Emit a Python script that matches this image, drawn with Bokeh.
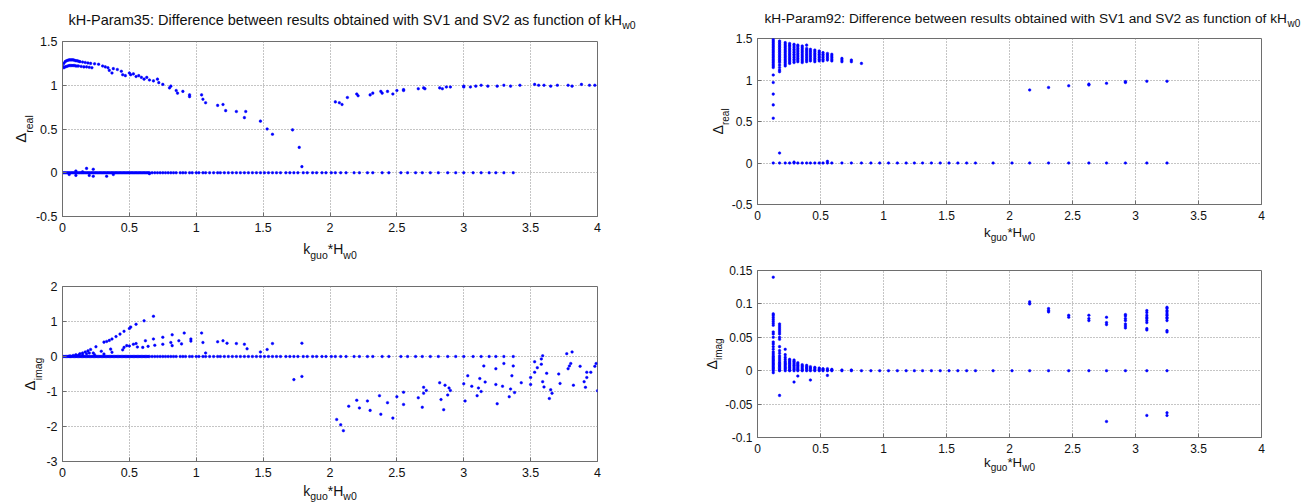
import math
from bokeh.plotting import figure
from bokeh.models import Range1d, FixedTicker, Label
from bokeh.layouts import row, column
from bokeh.embed import file_html
from bokeh.resources import INLINE

# ---------------- data ----------------
x_ticks = [0, 0.5, 1, 1.5, 2, 2.5, 3, 3.5, 4]
x_tick_labels = ["0", "0.5", "1", "1.5", "2", "2.5", "3", "3.5", "4"]

tl_y_ticks = [-0.5, 0, 0.5, 1, 1.5]
tl_y_labels = ["-0.5", "0", "0.5", "1", "1.5"]
bl_y_ticks = [-3, -2, -1, 0, 1, 2]
bl_y_labels = ["-3", "-2", "-1", "0", "1", "2"]
tr_y_ticks = [-0.5, 0, 0.5, 1, 1.5]
tr_y_labels = ["-0.5", "0", "0.5", "1", "1.5"]
br_y_ticks = [-0.1, -0.05, 0, 0.05, 0.1, 0.15]
br_y_labels = ["-0.1", "-0.05", "0", "0.05", "0.1", "0.15"]

# Param35: kH samples where the difference is (close to) zero
p35_zero_k = [0.00, 0.01, 0.02, 0.03, 0.04, 0.05, 0.06, 0.07, 0.08, 0.09,
              0.10, 0.11, 0.12, 0.13, 0.14, 0.15, 0.16, 0.17, 0.18, 0.19,
              0.20, 0.21, 0.22, 0.23, 0.24, 0.25, 0.26, 0.27, 0.28, 0.29,
              0.30, 0.31, 0.32, 0.33, 0.34, 0.35, 0.36, 0.37, 0.38, 0.39,
              0.40, 0.41, 0.42, 0.43, 0.44, 0.45, 0.46, 0.47, 0.48, 0.49,
              0.50, 0.51, 0.52, 0.53, 0.54, 0.55, 0.56, 0.57, 0.58, 0.59,
              0.60, 0.61, 0.62, 0.63, 0.64, 0.65, 0.67, 0.69, 0.71, 0.73,
              0.75, 0.77, 0.79, 0.81, 0.83, 0.85, 0.88, 0.90, 0.92, 0.95,
              0.97, 1.00, 1.02, 1.05, 1.07, 1.10, 1.13, 1.16, 1.18, 1.21,
              1.24, 1.27, 1.30, 1.33, 1.36, 1.39, 1.42, 1.45, 1.48, 1.51,
              1.54, 1.57, 1.60, 1.63, 1.67, 1.70, 1.73, 1.76, 1.80, 1.83,
              1.87, 1.90, 1.94, 1.97, 2.01, 2.04, 2.08, 2.12, 2.18, 2.22,
              2.28, 2.32, 2.39, 2.44, 2.53, 2.58, 2.64, 2.69, 2.75, 2.81,
              2.88, 2.94, 3.00, 3.07, 3.13, 3.19, 3.24, 3.30, 3.37]

# Param35, real part: points off the zero line
tl_x = [0.05, 0.10, 0.10, 0.15, 0.18, 0.20, 0.23, 0.23, 0.33, 0.38, 0.65,
        0.00, 0.01, 0.02, 0.03, 0.04, 0.05, 0.06, 0.07, 0.08, 0.09, 0.10, 0.11,
        0.12, 0.13, 0.15, 0.17, 0.19, 0.21, 0.24, 0.27,
        0.01, 0.02, 0.03, 0.04, 0.05, 0.06, 0.07, 0.08, 0.09, 0.10, 0.11, 0.12,
        0.14, 0.16, 0.18, 0.20, 0.22,
        0.30, 0.32, 0.34, 0.35, 0.37, 0.38, 0.41, 0.44, 0.45, 0.47, 0.50, 0.51,
        0.53, 0.55, 0.57, 0.59, 0.61, 0.63, 0.65, 0.68, 0.71, 0.72, 0.75, 0.80,
        0.81, 0.85, 0.86, 0.90, 0.95, 0.95, 1.04, 1.05, 1.07, 1.16, 1.20, 1.22,
        1.30, 1.36, 1.37, 1.48, 1.53, 1.57, 1.72, 1.77, 1.79,
        2.04, 2.07, 2.09, 2.13, 2.20, 2.21, 2.30, 2.32, 2.38, 2.39, 2.43, 2.47,
        2.50, 2.55, 2.55, 2.66, 2.70, 2.71, 2.82, 2.84, 2.87, 2.90, 3.00, 3.00,
        3.05, 3.09, 3.13, 3.18, 3.25, 3.30, 3.35, 3.42, 3.53, 3.56, 3.60, 3.65,
        3.70, 3.78, 3.81, 3.88, 3.94, 3.98]
tl_y = [-0.02, 0.02, -0.03, 0.01, 0.05, -0.03, 0.04, -0.04, -0.04, -0.02, -0.01,
        1.22, 1.25, 1.27, 1.28, 1.285, 1.29, 1.29, 1.29, 1.29, 1.285, 1.28, 1.28,
        1.275, 1.27, 1.265, 1.26, 1.255, 1.25, 1.245, 1.24,
        1.20, 1.21, 1.215, 1.22, 1.225, 1.225, 1.225, 1.225, 1.225, 1.22, 1.22, 1.22,
        1.215, 1.21, 1.21, 1.205, 1.20,
        1.22, 1.21, 1.20, 1.17, 1.14, 1.19, 1.18, 1.16, 1.12, 1.11, 1.14, 1.12,
        1.13, 1.10, 1.11, 1.09, 1.07, 1.09, 1.06, 1.05, 1.07, 1.03, 1.01, 0.97,
        0.99, 0.94, 0.91, 0.93, 0.89, 0.87, 0.89, 0.84, 0.80, 0.77, 0.78, 0.71,
        0.70, 0.63, 0.70, 0.59, 0.50, 0.44, 0.49, 0.29, 0.07,
        0.81, 0.80, 0.78, 0.86, 0.90, 0.88, 0.89, 0.91, 0.93, 0.91, 0.93, 0.90,
        0.94, 0.95, 0.94, 0.96, 0.97, 0.96, 0.97, 0.96, 0.98, 0.98, 0.99, 0.98,
        0.98, 0.99, 1.00, 0.99, 0.99, 1.00, 0.99, 1.00, 1.01, 1.00, 1.00, 0.99,
        1.00, 1.00, 0.99, 1.01, 1.00, 1.00]

# Param35, imaginary part: points off the zero line
bl_x = [0.05, 0.08, 0.10, 0.13, 0.15, 0.17, 0.19, 0.21, 0.25, 0.31, 0.33, 0.35,
        0.37, 0.40, 0.43, 0.46, 0.50, 0.51, 0.55, 0.61, 0.68,
        0.06, 0.10, 0.12, 0.15, 0.18, 0.20, 0.23, 0.24, 0.29, 0.31, 0.36, 0.37,
        0.45, 0.46, 0.48, 0.50, 0.53, 0.55, 0.56, 0.60, 0.62, 0.64, 0.68, 0.69,
        0.75, 0.75, 0.81, 0.82, 0.82, 0.87, 0.89, 0.91, 0.96, 0.96, 1.04, 1.05,
        1.07, 1.16, 1.20, 1.23, 1.30, 1.36, 1.38, 1.48, 1.53, 1.57, 1.73, 1.79, 1.79,
        2.05, 2.08, 2.10, 2.14, 2.20, 2.22, 2.28, 2.30, 2.37, 2.38, 2.43, 2.47,
        2.50, 2.55, 2.55, 2.66, 2.69, 2.70, 2.70, 2.72, 2.82, 2.83, 2.85, 2.86,
        2.88, 2.89, 2.90, 3.00, 3.01, 3.03, 3.06, 3.10, 3.11, 3.12, 3.13, 3.15,
        3.16, 3.24, 3.24, 3.25, 3.29, 3.30, 3.34, 3.35, 3.36, 3.37, 3.38, 3.43,
        3.50, 3.50, 3.53, 3.53, 3.55, 3.58, 3.58, 3.59, 3.59, 3.60, 3.62, 3.64,
        3.65, 3.66, 3.71, 3.72, 3.77, 3.78, 3.79, 3.80, 3.81, 3.82, 3.87, 3.90,
        3.91, 3.92, 3.92, 3.95, 3.98, 3.99, 4.00]
bl_y = [0.01, 0.03, 0.05, 0.08, 0.10, 0.13, 0.16, 0.20, 0.28, 0.41, 0.43, 0.46,
        0.50, 0.57, 0.64, 0.72, 0.80, 0.84, 0.92, 1.02, 1.15,
        0.01, 0.02, 0.04, 0.05, 0.08, 0.10, 0.10, 0.05, 0.15, 0.07, 0.21, 0.12,
        0.19, 0.26, 0.31, 0.30, 0.35, 0.37, 0.27, 0.26, 0.45, 0.29, 0.50, 0.32,
        0.55, 0.35, 0.40, 0.62, 0.31, 0.45, 0.36, 0.67, 0.50, 0.44, 0.67, 0.40,
        0.10, 0.42, 0.45, 0.38, 0.37, 0.35, 0.22, 0.13, 0.20, 0.37, -0.66, 0.38, -0.57,
        -1.80, -1.95, -2.12, -1.42, -1.25, -1.47, -1.27, -1.54, -1.12, -1.65, -1.32, -1.76,
        -1.15, -1.02, -1.37, -1.18, -1.45, -0.88, -1.05, -0.97, -0.75, -1.23, -1.52, -0.82,
        -1.10, -0.90, -0.97, -0.78, -1.27, -0.55, -0.85, -1.12, -0.90, -0.63, -1.00, -0.27,
        -0.73, -0.35, -0.80, -1.35, -0.85, -0.20, -1.15, -0.93, -0.55, -0.27, -1.03, -0.75,
        -0.60, -0.80, -0.45, -0.15, -0.32, -0.07, -0.22, 0.02, -0.72, -0.87, -0.48, -1.20,
        -0.95, -1.05, -0.50, -0.77, 0.08, -0.35, -0.27, -0.20, 0.13, -0.82, -0.28, -0.72,
        -0.88, -0.45, -0.60, -0.45, -0.28, -0.20, -0.98]

# Param92: kH sample columns
p92_k = [0.125, 0.175, 0.22, 0.255, 0.29, 0.32, 0.355, 0.39, 0.42, 0.455,
         0.49, 0.52, 0.555, 0.59, 0.67, 0.745, 0.825, 0.90, 0.97, 1.04,
         1.11, 1.18, 1.245, 1.31, 1.38, 1.45, 1.52, 1.59, 1.66, 1.73,
         1.87, 2.02, 2.16, 2.31, 2.47, 2.63, 2.77, 2.92, 3.09, 3.25]

# Param92, real part: values per column (same order as p92_k)
tr_cols = [
    [1.49, 1.47, 1.45, 1.43, 1.41, 1.39, 1.37, 1.35, 1.33, 1.31, 1.29, 1.27, 1.25,
     1.23, 1.21, 1.19, 1.17, 1.15, 1.06, 0.97, 0.83, 0.70, 0.54, 0.0],
    [1.47, 1.45, 1.43, 1.41, 1.39, 1.37, 1.35, 1.33, 1.31, 1.29, 1.27, 1.25, 1.23,
     1.21, 1.18, 1.15, 1.12, 1.10, 0.12, 0.0],
    [1.45, 1.43, 1.41, 1.39, 1.37, 1.35, 1.33, 1.31, 1.29, 1.27, 1.25, 1.23, 1.21,
     1.19, 1.17, 0.0],
    [1.44, 1.42, 1.40, 1.38, 1.36, 1.34, 1.32, 1.30, 1.28, 1.26, 1.24, 1.22, 1.20, 0.0],
    [1.43, 1.41, 1.39, 1.37, 1.35, 1.33, 1.31, 1.29, 1.27, 1.25, 1.23, 1.21, 0.01, 0.0],
    [1.42, 1.40, 1.38, 1.36, 1.34, 1.32, 1.30, 1.28, 1.26, 1.24, 1.22, 0.0],
    [1.41, 1.39, 1.37, 1.35, 1.33, 1.31, 1.29, 1.27, 1.25, 1.23, 1.21, 0.0],
    [1.42, 1.38, 1.36, 1.34, 1.32, 1.30, 1.28, 1.26, 1.24, 1.22, 0.0],
    [1.37, 1.35, 1.33, 1.31, 1.29, 1.27, 1.25, 1.23, 0.0],
    [1.36, 1.34, 1.32, 1.30, 1.28, 1.26, 1.24, 1.22, 0.0],
    [1.35, 1.33, 1.31, 1.29, 1.27, 1.25, 1.23, 0.0],
    [1.33, 1.31, 1.29, 1.27, 1.25, 1.23, 0.0],
    [1.32, 1.30, 1.28, 1.26, 1.24, 0.02, 0.0],
    [1.31, 1.29, 1.27, 1.25, 1.23, 0.0],
    [1.26, 1.24, 1.22, 0.0],
    [1.24, 1.22, 0.0],
    [1.20, 0.0],
    [0.0], [0.0], [0.0], [0.0], [0.0], [0.0], [0.0], [0.0], [0.0], [0.0],
    [0.0], [0.0], [0.0], [0.0], [0.0],
    [0.88, 0.0], [0.91, 0.0], [0.93, 0.0], [0.95, 0.94, 0.0], [0.96, 0.0],
    [0.98, 0.97, 0.0], [0.985, 0.0], [0.985, 0.0],
]

# Param92, imaginary part: values per column (same order as p92_k)
br_cols = [
    [0.14, 0.085, 0.083, 0.080, 0.077, 0.074, 0.071, 0.068, 0.058, 0.055, 0.050,
     0.043, 0.040, 0.036, 0.032, 0.028, 0.025, 0.022, 0.020, 0.018, 0.016, 0.014,
     0.012, 0.010, 0.008, 0.006, 0.004, 0.002, 0.0, -0.003],
    [0.070, 0.067, 0.064, 0.061, 0.058, 0.055, 0.050, 0.047, 0.036, 0.030, 0.026,
     0.022, 0.019, 0.016, 0.013, 0.011, 0.009, 0.007, 0.005, 0.003, 0.001, 0.0, -0.037],
    [0.032, 0.024, 0.020, 0.017, 0.014, 0.012, 0.010, 0.008, 0.006, 0.004, 0.002, 0.0],
    [0.017, 0.015, 0.013, 0.011, 0.009, 0.007, 0.005, 0.003, 0.001, 0.0],
    [0.016, 0.014, 0.012, 0.010, 0.008, 0.006, 0.004, 0.002, 0.0, -0.017],
    [0.012, 0.010, 0.008, 0.006, 0.004, 0.002, 0.0, -0.008],
    [0.009, 0.007, 0.005, 0.003, 0.001, 0.0],
    [0.008, 0.006, 0.004, 0.002, 0.0],
    [0.006, 0.004, 0.002, 0.0, -0.014],
    [0.005, 0.003, 0.001, 0.0],
    [0.004, 0.002, 0.0],
    [0.003, 0.002, 0.0],
    [0.003, 0.001, 0.0, -0.007],
    [0.002, 0.001, 0.0],
    [0.001, 0.0],
    [0.001, 0.0],
    [0.0], [0.0], [0.0], [0.0], [0.0], [0.0], [0.0], [0.0], [0.0], [0.0],
    [0.0], [0.0], [0.0], [0.0], [0.0], [0.0],
    [0.103, 0.100, 0.0],
    [0.093, 0.090, 0.088, 0.0],
    [0.083, 0.080, 0.0],
    [0.083, 0.078, 0.075, 0.0],
    [0.080, 0.072, 0.069, 0.0, -0.076],
    [0.084, 0.082, 0.078, 0.075, 0.070, 0.067, 0.064, 0.0],
    [0.090, 0.087, 0.083, 0.080, 0.078, 0.075, 0.072, 0.063, 0.061, 0.0, -0.067],
    [0.095, 0.093, 0.090, 0.088, 0.085, 0.083, 0.080, 0.078, 0.075, 0.060, 0.058,
     0.0, -0.063, -0.067],
]

title_35 = "kH-Param35: Difference between results obtained with SV1 and SV2 as function of kH"
title_92 = "kH-Param92: Difference between results obtained with SV1 and SV2 as function of kH"
title_sub = "w0"

# ---------------- styling helpers ----------------
FONT = "Liberation Sans"
FRAME = "#6e6e6e"
BLUE = "#0000ff"
TXT = "#111111"
MSIZE = 2.6
CANVAS_W, CANVAS_H = 1313, 502

W = {' ': 278, '!': 278, '-': 333, ':': 278, '*': 389, '.': 278, 'Δ': 667,
     'A': 667, 'B': 667, 'C': 722, 'D': 722, 'E': 667, 'F': 611, 'G': 778, 'H': 722,
     'I': 278, 'J': 500, 'K': 667, 'L': 556, 'M': 833, 'N': 722, 'O': 778, 'P': 667,
     'Q': 778, 'R': 722, 'S': 667, 'T': 611, 'U': 722, 'V': 667, 'W': 944, 'X': 667,
     'Y': 667, 'Z': 611,
     'a': 556, 'b': 556, 'c': 500, 'd': 556, 'e': 556, 'f': 278, 'g': 556, 'h': 556,
     'i': 222, 'j': 222, 'k': 500, 'l': 222, 'm': 833, 'n': 556, 'o': 556, 'p': 556,
     'q': 556, 'r': 333, 's': 500, 't': 278, 'u': 556, 'v': 500, 'w': 722, 'x': 500,
     'y': 500, 'z': 500}


def tw(s, size):
    return sum(W.get(c, 556) for c in s) / 1000.0 * size


def flatten(xs, cols):
    X, Y = [], []
    for x, ys in zip(xs, cols):
        X += [x] * len(ys)
        Y += list(ys)
    return X, Y


def make_panel(w, h, borders, yr, yticks, ylabels, tick_size):
    l, r, t, b = borders
    p = figure(width=w, height=h, x_range=Range1d(0, 4), y_range=Range1d(*yr),
               output_backend="svg", toolbar_location=None, title=None,
               min_border_left=l, min_border_right=r, min_border_top=t,
               min_border_bottom=b, background_fill_color="white",
               border_fill_color="white")
    p.outline_line_color = FRAME
    p.outline_line_width = 1
    p.xaxis.ticker = FixedTicker(ticks=x_ticks)
    p.xaxis.major_label_overrides = {tk: lb for tk, lb in zip(x_ticks, x_tick_labels)}
    p.yaxis.ticker = FixedTicker(ticks=yticks)
    p.yaxis.major_label_overrides = {tk: lb for tk, lb in zip(yticks, ylabels)}
    for ax in (p.xaxis, p.yaxis):
        ax.axis_line_color = FRAME
        ax.major_tick_line_color = FRAME
        ax.major_tick_in = 4
        ax.major_tick_out = 0
        ax.minor_tick_line_color = None
        ax.major_label_text_font = FONT
        ax.major_label_text_font_size = tick_size
        ax.major_label_text_color = TXT
    p.xaxis.major_label_standoff = 6
    p.yaxis.major_label_standoff = 5
    p.xgrid.ticker = FixedTicker(ticks=x_ticks)
    p.ygrid.ticker = FixedTicker(ticks=yticks)
    p.grid.grid_line_color = "#8a8a8a"
    p.grid.grid_line_dash = "1 2"
    p.grid.grid_line_width = 1
    return p


# transparent full-page layer that carries all titles and axis labels;
# it is pulled over the panels with a negative left margin
overlay = figure(width=CANVAS_W, height=CANVAS_H, x_range=Range1d(0, CANVAS_W),
                 y_range=Range1d(0, CANVAS_H), min_border=0, output_backend="svg",
                 toolbar_location=None, title=None, x_axis_type=None, y_axis_type=None,
                 background_fill_color=None, border_fill_color=None,
                 outline_line_color=None, margin=(0, 0, 0, -CANVAS_W))


def put(x_px, y_px, text, size, angle=0.0):
    overlay.add_layout(Label(x=x_px, y=CANVAS_H - y_px, text=text,
                             text_font=FONT, text_font_size="%.1fpx" % size,
                             text_color=TXT, text_align="left",
                             text_baseline="alphabetic", angle=angle))


def title(x0, base, text, size, sub_size, drop):
    put(x0, base, text, size)
    put(x0 + tw(text, size), base + drop, title_sub, sub_size)


def xlabel(cx, base, size, sub_size, drop):
    pieces = [("k", size, 0), ("guo", sub_size, drop), ("*H", size, 0), ("w0", sub_size, drop)]
    total = sum(tw(s, z) for s, z, _ in pieces)
    cur = cx - total / 2.0
    for s, z, d in pieces:
        put(cur, base + d, s, z)
        cur += tw(s, z)


def ylabel(base_x, cy, sub, size, sub_size, shift):
    pieces = [("Δ", size, 0), (sub, sub_size, shift)]
    total = sum(tw(s, z) for s, z, _ in pieces)
    cur = cy + total / 2.0
    for s, z, d in pieces:
        put(base_x + d, cur, s, z, angle=math.pi / 2)
        cur -= tw(s, z)


# ---------------- panels ----------------
tl = make_panel(660, 250, (62, 63, 41, 34), (-0.5, 1.5), tl_y_ticks, tl_y_labels, "12.5px")
tl.scatter(p35_zero_k, [0.0] * len(p35_zero_k), size=MSIZE, color=BLUE, line_width=0.5)
tl.scatter(tl_x, tl_y, size=MSIZE, color=BLUE, line_width=0.5)

bl = make_panel(660, 252, (62, 63, 36, 41), (-3, 2), bl_y_ticks, bl_y_labels, "12.5px")
bl.scatter(p35_zero_k, [0.0] * len(p35_zero_k), size=MSIZE, color=BLUE, line_width=0.5)
bl.scatter(bl_x, bl_y, size=MSIZE, color=BLUE, line_width=0.5)

tr_x, tr_y = flatten(p92_k, tr_cols)
tr = make_panel(653, 250, (97, 52, 38, 46), (-0.5, 1.5), tr_y_ticks, tr_y_labels, "12px")
tr.scatter(tr_x, tr_y, size=MSIZE, color=BLUE, line_width=0.5)

br_x, br_y = flatten(p92_k, br_cols)
br = make_panel(653, 252, (97, 52, 20, 65), (-0.1, 0.15), br_y_ticks, br_y_labels, "12px")
br.scatter(br_x, br_y, size=MSIZE, color=BLUE, line_width=0.5)

# ---------------- titles and axis labels (page pixel positions) ----------------
title(68, 19, title_35, 14.5, 10.5, 5)
title(764, 18, title_92, 13.7, 10, 5)
xlabel(329.5, 248, 14, 10.5, 6)
xlabel(329.5, 490, 14, 10.5, 5)
xlabel(1009, 232, 13.3, 10, 5)
xlabel(1009, 462, 13.3, 10, 5)
ylabel(20, 128.5, "real", 15, 10.5, 8)
ylabel(29, 373.5, "imag", 15, 10.5, 8)
ylabel(717, 121, "real", 14.3, 10, 8)
ylabel(711, 353.5, "imag", 14.3, 10, 7)

panels = row(column(tl, bl), column(tr, br))
layout = row(panels, overlay)

open("out.html", "w").write(file_html(layout, INLINE))
